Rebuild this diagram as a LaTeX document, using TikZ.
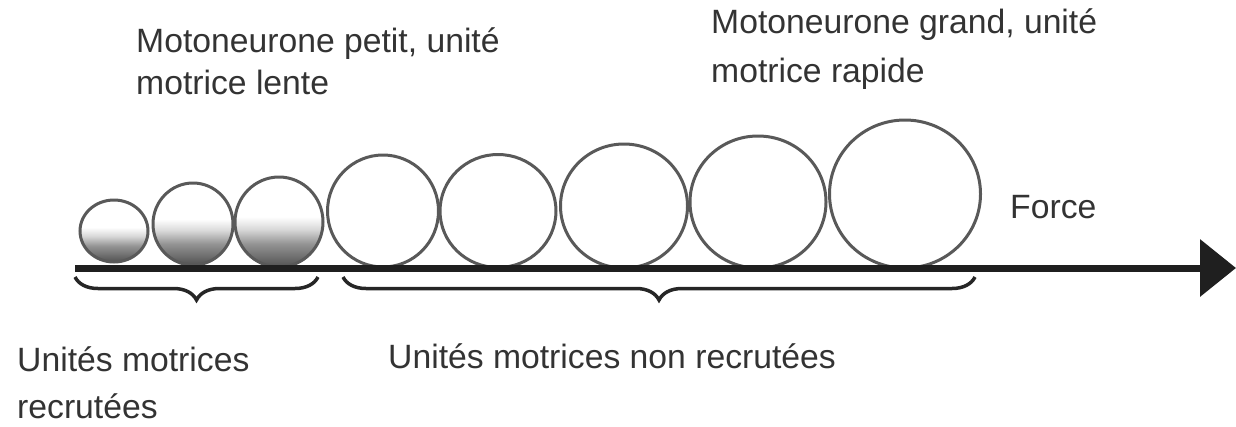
\documentclass[tikz,border=0pt]{standalone}
\usepackage{fontspec}
\setmainfont{Liberation Sans}
\usetikzlibrary{arrows.meta,decorations.pathreplacing,shapes.geometric}
\pgfdeclareverticalshading{recruitshade}{100bp}{color(0bp)=(black!68); color(25bp)=(black!68); color(38bp)=(black!42); color(46bp)=(black!15); color(53bp)=(white); color(100bp)=(white)}
\begin{document}
\begin{tikzpicture}[x=1pt,y=-1pt,
  mu/.style={ellipse, draw=black!65, line width=3pt, fill=white, inner sep=0pt},
  recruited/.style={mu, shading=recruitshade},
  lbl/.style={text=black!80, font=\fontsize{33.7}{42}\selectfont, anchor=base west, inner sep=0pt},
  bracestyle/.style={draw=black!85, line width=3.5pt, decorate, decoration={brace, mirror, amplitude=23pt}},
  axisline/.style={draw=black!88, line width=7pt, -{Triangle[length=36pt,width=56pt]}}]
\useasboundingbox (0,0) rectangle (1236,426);
% motor units
\node[recruited, minimum width=68pt, minimum height=62pt] (c1) at (114,231) {};
\node[recruited, minimum width=80pt, minimum height=82pt] (c2) at (193,224) {};
\node[recruited, minimum width=88pt, minimum height=90pt] (c3) at (279,222) {};
\node[mu, minimum width=111pt, minimum height=112pt] (c4) at (383,211) {};
\node[mu, minimum width=116pt, minimum height=113pt] (c5) at (498,211) {};
\node[mu, minimum width=127pt, minimum height=124pt] (c6) at (624,206) {};
\node[mu, minimum width=136pt, minimum height=132pt] (c7) at (758,202) {};
\node[mu, minimum width=151pt, minimum height=148pt] (c8) at (905,194) {};
% axis
\coordinate (axstart) at (75,268);
\coordinate (axtip) at (1236,268);
\draw[axisline] (axstart) -- (axtip);
% braces
\coordinate (b1l) at (75,277);
\coordinate (b1r) at (318,277);
\coordinate (b2l) at (343,277);
\coordinate (b2r) at (975,277);
\draw[bracestyle] (b1l) -- (b1r);
\draw[bracestyle] (b2l) -- (b2r);
% labels
\node[lbl] (t1a) at (136,52) {Motoneurone petit, unité};
\node[lbl] (t1b) at (136,94) {motrice lente};
\node[lbl] (t2a) at (711,33) {Motoneurone grand, unité};
\node[lbl] (t2b) at (711,82) {motrice rapide};
\node[lbl] (force) at (1010,218) {Force};
\node[lbl] (r1a) at (17,371) {Unités motrices};
\node[lbl] (r1b) at (17,418) {recrutées};
\node[lbl] (r2) at (388,368) {Unités motrices non recrutées};
\end{tikzpicture}
\end{document}
